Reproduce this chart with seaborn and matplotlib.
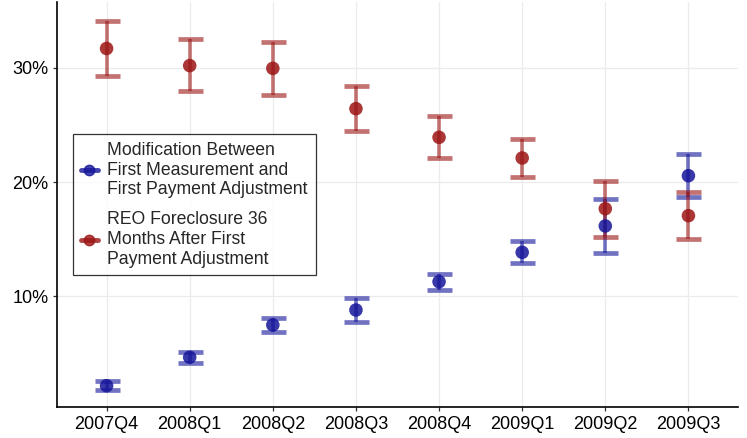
import numpy as np
import pandas as pd
import matplotlib
matplotlib.use("Agg")
import matplotlib.pyplot as plt
import seaborn as sns
from matplotlib.lines import Line2D
from matplotlib.ticker import FixedLocator, FuncFormatter

quarters = ["2007Q4", "2008Q1", "2008Q2", "2008Q3", "2008Q4", "2009Q1", "2009Q2", "2009Q3"]

mod_label = "Modification Between\nFirst Measurement and\nFirst Payment Adjustment"
mod_val = [2.17, 4.66, 7.49, 8.80, 11.28, 13.85, 16.16, 20.56]
mod_lo = [1.80, 4.13, 6.87, 7.78, 10.58, 12.89, 13.82, 18.70]
mod_hi = [2.61, 5.15, 8.13, 9.82, 11.98, 14.84, 18.52, 22.43]

reo_label = "REO Foreclosure 36\nMonths After First\nPayment Adjustment"
reo_val = [31.70, 30.20, 29.96, 26.43, 23.92, 22.11, 17.67, 17.06]
reo_lo = [29.32, 27.95, 27.65, 24.45, 22.08, 20.47, 15.22, 15.02]
reo_hi = [34.13, 32.56, 32.30, 28.44, 25.76, 23.80, 20.12, 19.11]

y_ticks = [10, 20, 30]

sns.set_theme(style="white")
plt.rcParams["font.family"] = ["Liberation Sans", "DejaVu Sans"]

blue = "#15159a"
red = "#9c1414"

df = pd.DataFrame({
    "quarter": quarters * 2,
    "value": mod_val + reo_val,
    "lo": mod_lo + reo_lo,
    "hi": mod_hi + reo_hi,
    "series": [mod_label] * len(quarters) + [reo_label] * len(quarters),
})

fig = plt.figure(figsize=(7.47, 4.38), dpi=100)
ax = fig.add_axes([56.7 / 747, 1 - 407.3 / 438, (738.3 - 56.7) / 747, (407.3 - 2) / 438])

palette = {mod_label: blue, reo_label: red}
xpos = {q: i for i, q in enumerate(quarters)}

for s, color in palette.items():
    sub = df[df["series"] == s]
    x = sub["quarter"].map(xpos).to_numpy()
    y = sub["value"].to_numpy()
    yerr = np.vstack([y - sub["lo"].to_numpy(), sub["hi"].to_numpy() - y])
    ax.errorbar(x, y, yerr=yerr, fmt="none", ecolor=color, elinewidth=2.6,
                capsize=9, capthick=3.4, alpha=0.6, zorder=3)

sns.scatterplot(data=df, x=df["quarter"].map(xpos), y="value", hue="series",
                palette=palette, s=95, alpha=0.85, edgecolor="none",
                legend=False, ax=ax, zorder=4)

ax.set_xlim(-0.6, 7.6)
ax.set_ylim(0.28, 35.77)
ax.xaxis.set_major_locator(FixedLocator(range(len(quarters))))
ax.set_xticklabels(quarters)
ax.yaxis.set_major_locator(FixedLocator(y_ticks))
ax.yaxis.set_major_formatter(FuncFormatter(lambda v, p: f"{v:.0f}%"))
ax.set_xlabel("")
ax.set_ylabel("")

ax.grid(True, color="#ebebeb", linewidth=0.9)
ax.set_axisbelow(True)
for side in ["top", "right"]:
    ax.spines[side].set_visible(False)
for side in ["left", "bottom"]:
    ax.spines[side].set_color("black")
    ax.spines[side].set_linewidth(1.2)
ax.tick_params(axis="both", which="major", length=3, width=0.9, color="#333333",
               labelsize=13, labelcolor="black", pad=3, left=True, bottom=True)

handles = [
    Line2D([0], [0], color=blue, marker="o", markersize=7.5, linewidth=3.5, alpha=0.8),
    Line2D([0], [0], color=red, marker="o", markersize=7.5, linewidth=3.5, alpha=0.8),
]
leg = ax.legend(handles, [mod_label, reo_label], loc="center left",
                bbox_to_anchor=(0.0235, 0.50), borderaxespad=0, fontsize=12.7,
                frameon=True, fancybox=False, handlelength=1.0, handletextpad=0.5,
                borderpad=0.45, labelspacing=0.7)
leg.get_frame().set_edgecolor("black")
leg.get_frame().set_linewidth(0.9)
for t in leg.get_texts():
    t.set_linespacing(1.22)

fig.savefig("out.png", dpi=100)
